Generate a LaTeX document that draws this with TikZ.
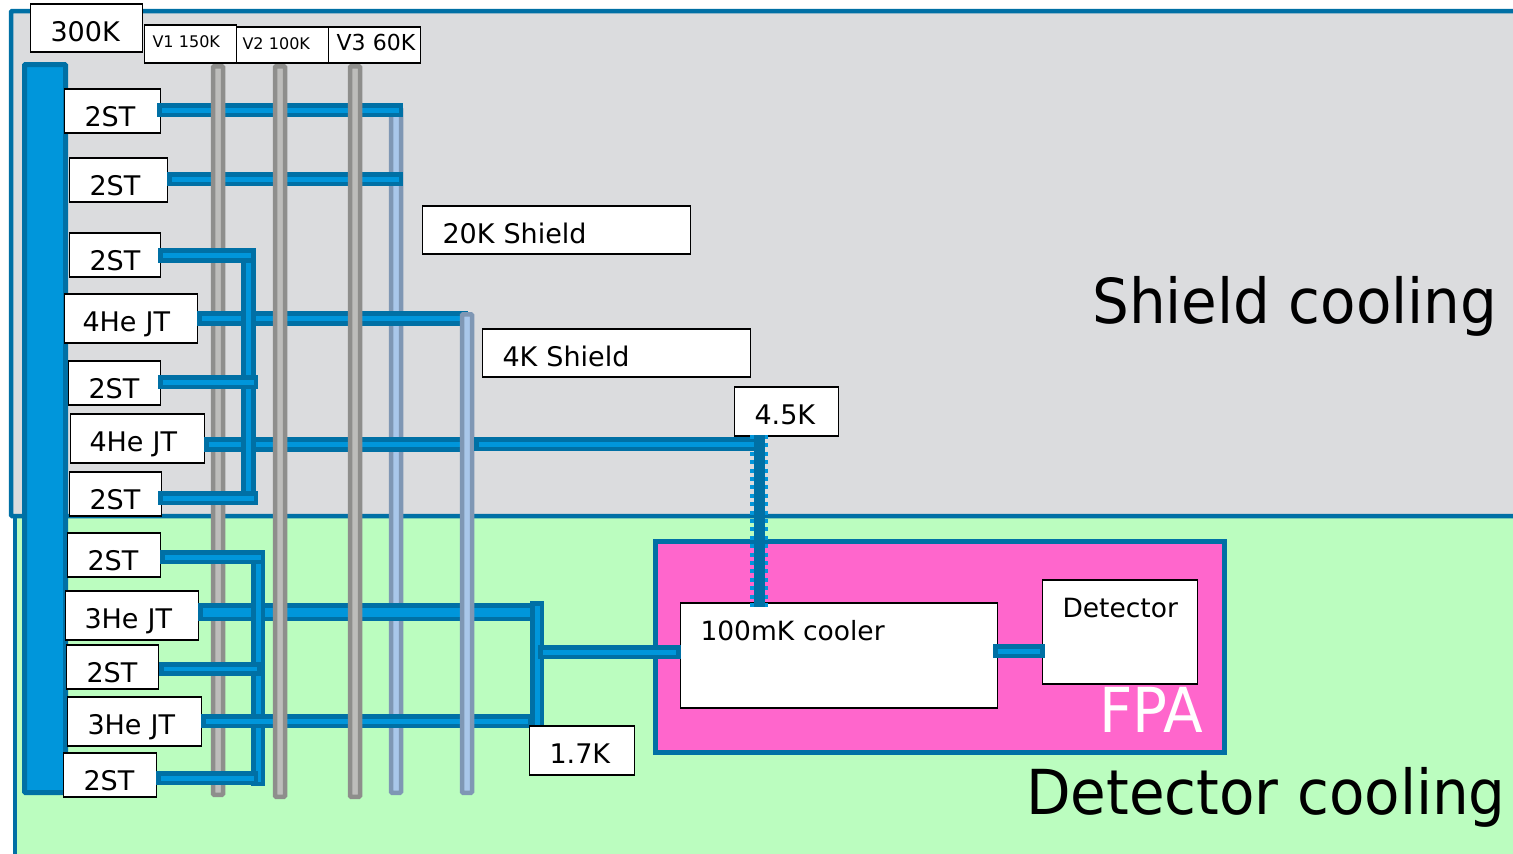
\documentclass[tikz,border=0pt]{standalone}
\usepackage{fontspec}
\setmainfont{DejaVu Sans}
\newfontfamily\bigfont[FakeStretch=0.935]{DejaVu Sans}
\definecolor{pipedark}{HTML}{0070A5}
\definecolor{pipelight}{HTML}{0096DB}
\definecolor{shieldgray}{HTML}{DBDCDE}
\definecolor{detgreen}{HTML}{BBFDBF}
\definecolor{fpapink}{HTML}{FF66CC}
\definecolor{railgray}{HTML}{8E8E8C}
\definecolor{railinner}{HTML}{BDBDBB}
\definecolor{railblue}{HTML}{7F97B4}
\definecolor{railsky}{HTML}{A9C7EA}
\tikzset{
	tag/.style n args={3}{draw=black, fill=white, line width=1.2pt, anchor=north west, inner ysep=0pt, outer sep=0pt,
		xshift=-0.5pt, inner xsep=#2pt, text width=#1pt-2*#2pt, align=left, text height=37pt, text depth=#3pt,
		font=\fontsize{27}{27}\selectfont},
	strap/.style={line width=4.75pt, draw=pipedark, double=pipelight, double distance=5pt, line cap=rect},
	rail/.style={draw=railgray, fill=railinner, line width=4.5pt, rounded corners=1pt, inner sep=0pt,
		minimum width=10pt, anchor=north},
	skyrail/.style={rail, draw=railblue, fill=railsky},
	big/.style={font=\bigfont\fontsize{62}{62}\selectfont, anchor=base west, inner sep=0pt},
}
\begin{document}
\begin{tikzpicture}[x=1pt, y=-1pt]
	\path[use as bounding box, clip] (0,0) rectangle (1513,854);
	% regions
	\draw[draw=pipedark, fill=detgreen, line width=4.5pt] (15,500) rectangle (1530,856);
	\draw[draw=pipedark, fill=shieldgray, line width=4.5pt, rounded corners=1pt] (11,11) rectangle (1530,516);
	\node[draw=pipedark, fill=fpapink, line width=5pt, anchor=north west, inner sep=0pt, minimum width=568.5pt, minimum height=211pt] (fpa) at (653,538.5) {};
	\node[big] (shieldtxt) at (1092,323) {Shield cooling};
	\node[big] (dettxt) at (1026,814) {Detector cooling};
	\node[big, text=white] (fpatxt) at (1099,732) {FPA};
	% warm bar
	\node[draw=pipedark, fill=pipelight, line width=5pt, rounded corners=1pt, anchor=north west, inner sep=0pt, minimum width=41pt, minimum height=728pt] (warm) at (22,62) {};
	% labels
	\node[tag={112}{20}{11}] (t300) at (31,4) {300K};
	\node[tag={92}{8}{16}, font=\fontsize{16}{16}\selectfont, text height=22pt] (v1) at (145,25) {V1 150K};
	\node[tag={92}{6}{14}, font=\fontsize{16}{16}\selectfont, text height=22pt] (v2) at (237,27) {V2 100K};
	\node[tag={92}{8}{13}, font=\fontsize{22}{22}\selectfont, text height=23pt] (v3) at (329,27) {\mbox{V3 60K}};
	\node[tag={96}{20}{7}] (st1) at (65,89) {2ST};
	\node[tag={98}{20}{7}] (st2) at (70,158) {2ST};
	\node[tag={91}{20}{7}] (st3) at (70,233) {2ST};
	\node[tag={133}{18}{12}] (he1) at (65,294) {4He JT};
	\node[tag={92}{20}{7}] (st4) at (69,361) {2ST};
	\node[tag={134}{19}{12}] (he2) at (71,414) {4He JT};
	\node[tag={92}{20}{7}] (st5) at (70,472) {2ST};
	\node[tag={93}{20}{7}] (st6) at (68,533) {2ST};
	\node[tag={133}{19}{12}] (he3) at (66,591) {3He JT};
	\node[tag={92}{20}{7}] (st7) at (67,645) {2ST};
	\node[tag={134}{20}{12}] (he4) at (68,697) {3He JT};
	\node[tag={93}{20}{7}] (st8) at (64,753) {2ST};
	\node[tag={268}{20}{11}] (s20) at (423,206) {20K Shield};
	\node[tag={268}{20}{11}] (s4) at (483,329) {4K Shield};
	\node[tag={104}{20}{12}] (t45) at (735,387) {4.5K};
	\node[tag={317}{20}{68}, font=\fontsize{26.5}{27}\selectfont] (cooler) at (681,603) {100mK cooler};
	\node[tag={155}{20}{67}, font=\fontsize{26.5}{27}\selectfont] (det) at (1043,580) {Detector};
	% first shield
	\node[skyrail, minimum height=684.5pt] (rail4) at (396,106) {};
	\coordinate (r1) at (396,110);
	\coordinate (r2) at (396,179);
	\draw[strap] ([xshift=4pt]st1.east |- r1) -- (r1);
	\draw[strap] ([xshift=7pt]st2.east |- r2) -- (r2);
	% vapour cooled rail and the straps over it
	\node[rail, minimum height=728.5pt] (rail1) at (218,64) {};
	\coordinate (r3) at (248.5,255.5);
	\coordinate (r4) at (460,318);
	\coordinate (r5) at (251,382);
	\coordinate (r6) at (460,444);
	\coordinate (r7) at (248.5,498);
	\coordinate (r8) at (251,498);
	\draw[strap, line width=5pt] ([xshift=7pt]he1.east |- r4) -- (r4);
	\draw[strap, line width=5pt] ([xshift=7pt]he2.east |- r6) -- (r6);
	\draw[strap] (r3) -- (r7);
	\draw[strap] ([xshift=5pt]st3.east |- r3) -- (r3);
	\draw[strap] ([xshift=5pt]st4.east |- r5) -- (r5);
	\draw[strap] ([xshift=4pt]st5.east |- r8) -- (r8);
	\coordinate (r9) at (258,557);
	\coordinate (r10) at (525,612);
	\coordinate (r11) at (255,669);
	\coordinate (r12) at (525,721);
	\coordinate (r13) at (258,779);
	\coordinate (r14) at (251,778);
	\draw[strap, double distance=9pt] ([xshift=9pt]he3.east |- r10) -- (r10);
	\draw[strap] (r9) -- (r13);
	\draw[strap] ([xshift=7pt]st6.east |- r9) -- (r9);
	\draw[strap, double distance=4pt] ([xshift=7pt]st7.east |- r11) -- (r11);
	\draw[strap] ([xshift=7pt]he4.east |- r12) -- (r12);
	\draw[strap] ([xshift=7pt]st8.east |- r14) -- (r14);
	% rails on top
	\node[rail, minimum height=730.5pt] (rail2) at (280,64) {};
	\node[rail, minimum height=730.5pt] (rail3) at (355,64) {};
	\node[skyrail, minimum height=478.5pt] (rail5) at (467,312) {};
	% cold end
	\coordinate (r15) at (537,608);
	\coordinate (r16) at (537,727);
	\coordinate (r17) at (545,652);
	\coordinate (r18) at (759,444);
	\draw[strap] (r15) -- (r16);
	\draw[strap] (r17) -- ([xshift=-7pt]cooler.west |- r17);
	\draw[strap] ([xshift=7pt]rail5.east |- r18) -- ([xshift=-7pt]r18);
	\coordinate (r19) at (1000,651);
	\draw[strap] (r19) -- ([xshift=-5pt]det.west |- r19);
	\node[tag={105}{20}{12}] (t17) at (530,726) {1.7K};
	% dotted link
	\draw[pipelight, line width=18pt, dash pattern=on 4pt off 4.4pt, shorten >=-4pt, shorten <=-1pt] (t45.south -| r18) -- (cooler.north -| r18);
	\draw[pipedark, line width=11pt, shorten >=-4pt, shorten <=-1pt] (t45.south -| r18) -- (cooler.north -| r18);
\end{tikzpicture}
\end{document}
